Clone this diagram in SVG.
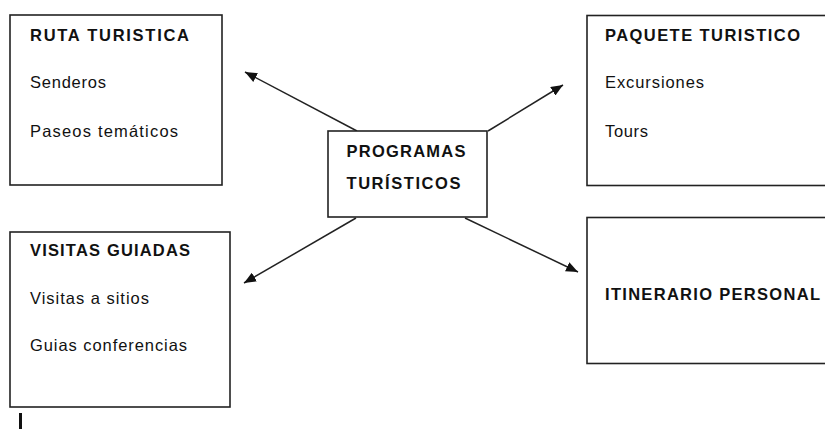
<svg xmlns="http://www.w3.org/2000/svg" width="825" height="429" viewBox="0 0 825 429">
<defs>
<style>
.box{fill:#fff;stroke:#222;stroke-width:1.6}
.h{font-family:"Liberation Sans",Arial,sans-serif;font-size:16.5px;font-weight:bold;fill:#111}
.t{font-family:"Liberation Sans",Arial,sans-serif;font-size:16.5px;fill:#111}
.arr{stroke:#222;stroke-width:1.5;fill:none;marker-end:url(#ah)}
</style>
<marker id="ah" markerUnits="userSpaceOnUse" markerWidth="12" markerHeight="10" refX="12" refY="5" orient="auto">
<path d="M0,0 L12,5 L0,10 z" fill="#111"/>
</marker>
</defs>
<rect width="825" height="429" fill="#fff"/>
<g id="connectors">
<line class="arr" x1="357" y1="131" x2="245" y2="72"/>
<line class="arr" x1="488" y1="131" x2="563" y2="85"/>
<line class="arr" x1="356" y1="218" x2="244" y2="283"/>
<line class="arr" x1="465" y1="218" x2="578" y2="272"/>
</g>
<g id="ruta">
<rect class="box" x="10" y="15" width="212" height="170"/>
<text class="h" x="30" y="41" textLength="159" lengthAdjust="spacing">RUTA TURISTICA</text>
<text class="t" x="30" y="87.5" textLength="76" lengthAdjust="spacing">Senderos</text>
<text class="t" x="30" y="137" textLength="148" lengthAdjust="spacing">Paseos temáticos</text>
</g>
<g id="paquete">
<rect class="box" x="587" y="15.5" width="250" height="170"/>
<text class="h" x="605" y="41" textLength="195" lengthAdjust="spacing">PAQUETE TURISTICO</text>
<text class="t" x="605" y="87.5" textLength="99" lengthAdjust="spacing">Excursiones</text>
<text class="t" x="605" y="137" textLength="43" lengthAdjust="spacing">Tours</text>
</g>
<g id="visitas">
<rect class="box" x="10" y="232" width="220" height="175"/>
<text class="h" x="30" y="255.5" textLength="160" lengthAdjust="spacing">VISITAS GUIADAS</text>
<text class="t" x="30" y="304" textLength="119" lengthAdjust="spacing">Visitas a sitios</text>
<text class="t" x="30" y="351" textLength="157" lengthAdjust="spacing">Guias conferencias</text>
</g>
<g id="itinerario">
<rect class="box" x="587" y="217.5" width="250" height="146"/>
<text class="h" x="605" y="299.5" textLength="215" lengthAdjust="spacing">ITINERARIO PERSONAL</text>
</g>
<g id="programas">
<rect class="box" x="328" y="131" width="159" height="86"/>
<text class="h" x="346.5" y="156.5" textLength="119" lengthAdjust="spacing">PROGRAMAS</text>
<text class="h" x="346.5" y="189" textLength="114" lengthAdjust="spacing">TURÍSTICOS</text>
</g>
<rect x="19" y="413" width="3" height="16" fill="#111"/>
</svg>
